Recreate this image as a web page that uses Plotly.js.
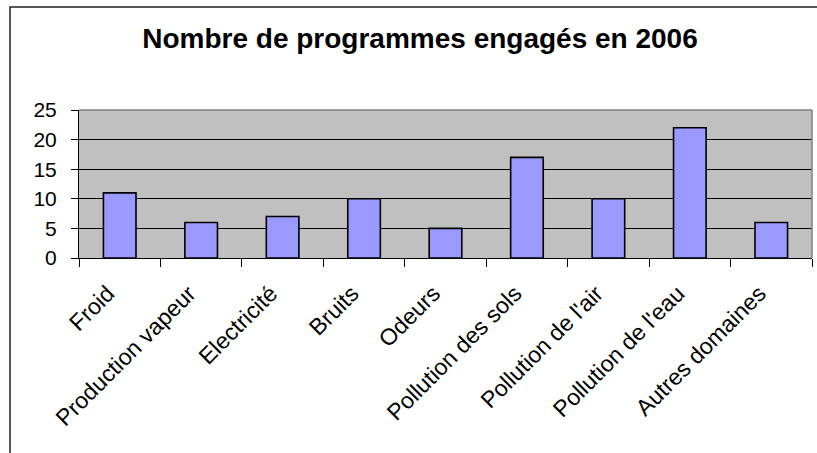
<!DOCTYPE html>
<html>
<head>
<meta charset="utf-8">
<script src="https://cdn.plot.ly/plotly-3.0.1.min.js"></script>
<style>
html,body{margin:0;padding:0;background:#fff;}
#chart{width:817px;height:453px;}
</style>
</head>
<body>
<div id="chart"></div>
<script>
const categories = ["Froid", "Production vapeur", "Electricité", "Bruits", "Odeurs",
  "Pollution des sols", "Pollution de l'air", "Pollution de l'eau", "Autres domaines"];
const values = [11, 6, 7, 10, 5, 17, 10, 22, 6];
const yTicks = [0, 5, 10, 15, 20, 25];
const titleText = "Nombre de programmes engagés en 2006";

const W = 817, H = 453;
const L = 79, R = 5, T = 110, B = 195;
const pw = W - L - R, ph = H - T - B;
const px = x => (x - L) / pw;
const py = y => (H - B - y) / ph;

const trace = {
  type: 'bar',
  x: categories,
  y: values,
  marker: {color: '#9999FF', line: {color: '#000000', width: 1.6}},
  hoverinfo: 'x+y'
};

const layout = {
  width: W, height: H,
  margin: {l: L, r: R, t: T, b: B, pad: 0},
  paper_bgcolor: '#ffffff',
  plot_bgcolor: '#C0C0C0',
  bargap: 0.6,
  showlegend: false,
  font: {family: 'Liberation Sans, Arial, sans-serif', color: '#000', size: 20},
  title: {
    text: '<b>' + titleText + '</b>',
    font: {family: 'Liberation Sans, Arial, sans-serif', size: 28, color: '#000'},
    x: 420 / W, xanchor: 'center', xref: 'container',
    y: 1 - 38 / H, yanchor: 'middle', yref: 'container'
  },
  xaxis: {
    type: 'category',
    tickangle: -45,
    showline: true, linecolor: '#000', linewidth: 1,
    ticks: 'outside', ticklen: 8, tickcolor: '#000', tickwidth: 1,
    tickson: 'boundaries',
    showgrid: false,
    ticklabelshift: -12,
    ticklabelstandoff: 12,
    tickfont: {size: 23, color: '#000'},
    fixedrange: true
  },
  yaxis: {
    range: [0, 25],
    tickvals: yTicks,
    ticktext: yTicks.map(String),
    showline: true, linecolor: '#000', linewidth: 1,
    ticks: 'outside', ticklen: 7, tickcolor: '#000', tickwidth: 1,
    ticklabelstandoff: 10,
    showgrid: true, gridcolor: '#000', gridwidth: 1,
    zeroline: false,
    tickfont: {size: 21, color: '#000'},
    fixedrange: true
  },
  shapes: [
    {type: 'line', xref: 'paper', yref: 'paper', x0: 0, x1: 1, y0: 1, y1: 1,
     line: {color: '#808080', width: 1.5}, layer: 'above'},
    {type: 'line', xref: 'paper', yref: 'paper', x0: 1, x1: 1, y0: 0, y1: 1,
     line: {color: '#808080', width: 1.5}, layer: 'above'},
    {type: 'rect', xref: 'paper', yref: 'paper',
     x0: px(10), x1: px(840), y0: py(470), y1: py(7),
     line: {color: '#222', width: 1.5}, fillcolor: 'rgba(0,0,0,0)', layer: 'above'}
  ]
};

Plotly.newPlot('chart', [trace], layout, {displayModeBar: false, staticPlot: true});
</script>
</body>
</html>
